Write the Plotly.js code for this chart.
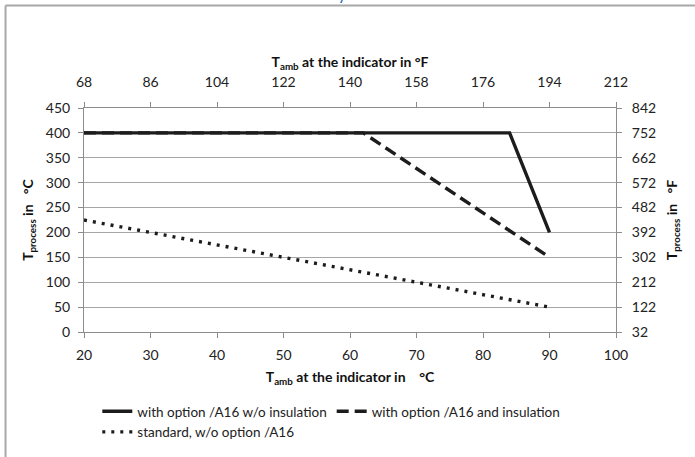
<!DOCTYPE html>
<html>
<head>
<meta charset="utf-8">
<script src="https://cdn.plot.ly/plotly-3.0.1.min.js"></script>
<style>html,body{margin:0;padding:0;background:#fff;}#chart{width:695px;height:457px;}</style>
</head>
<body>
<div id="chart"></div>
<script>
// Data
const seriesNames = ["with option /A16 w/o insulation", "with option /A16 and insulation", "standard, w/o option /A16"];
const noInsX = [20, 84, 90];
const noInsY = [400, 400, 200];
const insX = [20, 62, 90];
const insY = [400, 400, 150];
const stdX = [20, 90];
const stdY = [225, 50];
const cTicksX = [20, 30, 40, 50, 60, 70, 80, 90, 100];
const fTicksX = [68, 86, 104, 122, 140, 158, 176, 194, 212];
const cTicksY = [0, 50, 100, 150, 200, 250, 300, 350, 400, 450];
const fTicksY = [32, 122, 212, 302, 392, 482, 572, 662, 752, 842];

const lineColor = "#1c1c1c";
const font = "Lato, 'Open Sans', sans-serif";
const tickFont = {family: font, size: 14, color: "#222"};
const titleFont = {family: font, size: 14, color: "#111"};

const traces = [
  {x: noInsX, y: noInsY, name: seriesNames[0], mode: "lines", line: {color: lineColor, width: 3.4}, xaxis: "x", yaxis: "y"},
  {x: insX, y: insY, name: seriesNames[1], mode: "lines", line: {color: lineColor, width: 3.4, dash: "12px,6px"}, xaxis: "x", yaxis: "y"},
  {x: stdX, y: stdY, name: seriesNames[2], mode: "lines", line: {color: lineColor, width: 3.4, dash: "3px,6px"}, xaxis: "x", yaxis: "y"},
  {x: [fTicksX[0], fTicksX[fTicksX.length-1]], y: [fTicksY[0], fTicksY[fTicksY.length-1]], mode: "lines", line: {width: 0}, opacity: 0, showlegend: false, hoverinfo: "skip", xaxis: "x2", yaxis: "y2"}
];

const axisCommon = {
  showline: true, linecolor: "#8c8c8c", linewidth: 1,
  ticks: "outside", ticklen: 5, tickcolor: "#8c8c8c",
  tickfont: tickFont, automargin: false,
  zeroline: false, fixedrange: true
};

const nbsp = "\u00a0";
const layout = {
  width: 695, height: 457,
  margin: {l: 84, r: 79, t: 108, b: 125},
  paper_bgcolor: "#ffffff", plot_bgcolor: "#ffffff",
  font: {family: font, color: "#222"},
  showlegend: true,
  legend: {orientation: "h", xref: "paper", x: 0.025, xanchor: "left",
           yref: "container", y: (457 - 396) / 457, yanchor: "top",
           font: {family: font, size: 13.5, color: "#222"}, tracegroupgap: 0, itemwidth: 30},
  xaxis: Object.assign({}, axisCommon, {
    range: [cTicksX[0], cTicksX[cTicksX.length-1]], tickvals: cTicksX, showgrid: false,
    ticklabelstandoff: 5,
    title: {text: "<b>T<sub>amb</sub> at the indicator in" + nbsp+nbsp+nbsp+nbsp + "°C</b>", font: titleFont, standoff: 10}
  }),
  yaxis: Object.assign({}, axisCommon, {
    range: [cTicksY[0], cTicksY[cTicksY.length-1]], tickvals: cTicksY,
    showgrid: true, gridcolor: "#a6a6a6", gridwidth: 1,
    ticklabelstandoff: 5,
    title: {text: "<b>T<sub>process</sub> in" + nbsp+nbsp+nbsp + "°C</b>", font: titleFont, standoff: 8}
  }),
  xaxis2: Object.assign({}, axisCommon, {
    overlaying: "x", side: "top", anchor: "y",
    range: [fTicksX[0], fTicksX[fTicksX.length-1]], tickvals: fTicksX, showgrid: false,
    ticklabelstandoff: 9,
    title: {text: "<b>T<sub>amb</sub> at the indicator in °F</b>", font: titleFont, standoff: 2}
  }),
  yaxis2: Object.assign({}, axisCommon, {
    overlaying: "y", side: "right", anchor: "x",
    range: [fTicksY[0], fTicksY[fTicksY.length-1]], tickvals: fTicksY, showgrid: false,
    ticklabelstandoff: 7,
    title: {text: "<b>T<sub>process</sub> in" + nbsp+nbsp+nbsp + "°F</b>", font: titleFont, standoff: 12}
  }),
  shapes: [
    {type: "line", xref: "paper", yref: "paper", x0: -0.1475, x1: -0.1475, y0: 1.4576, y1: -0.56, line: {color: "#a8a8a8", width: 2}},
    {type: "line", xref: "paper", yref: "paper", x0: -0.1475, x1: 1.15, y0: 1.4576, y1: 1.4576, line: {color: "#a8a8a8", width: 2}}
  ],
  annotations: [
    {xref: "paper", yref: "paper", x: (342-84)/532, y: (332-5)/224, xanchor: "center", yanchor: "bottom",
     text: "y", showarrow: false, font: {family: font, size: 16, color: "#1f5fb0"}}
  ]
};

Plotly.newPlot("chart", traces, layout, {displayModeBar: false, staticPlot: true});
</script>
</body>
</html>
